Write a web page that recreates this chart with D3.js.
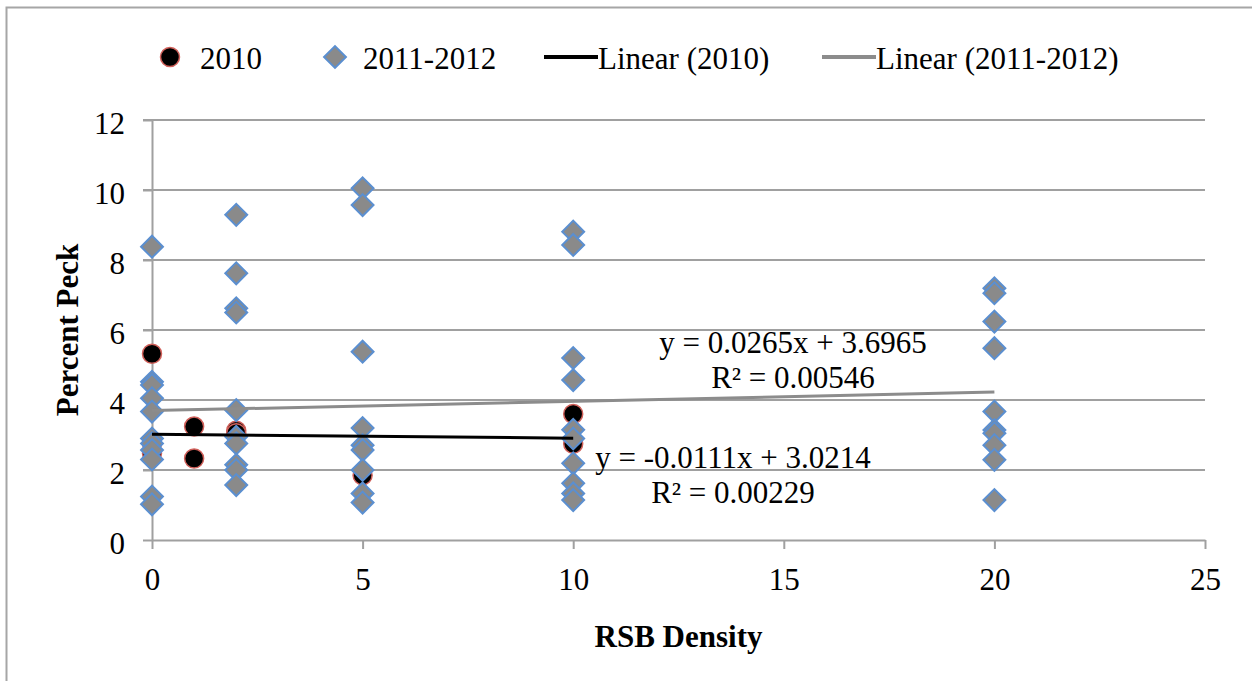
<!DOCTYPE html>
<html>
<head>
<meta charset="utf-8">
<script src="https://cdn.jsdelivr.net/npm/d3@7"></script>
<style>
  body { margin: 0; background: #fff; }
  svg text { font-family: "Times New Roman", "Liberation Serif", "DejaVu Serif", serif !important; fill: #000; }
</style>
</head>
<body>
<div id="chart"></div>
<script>
// 2010 series (circles)
const x2010 = [0, 0, 0, 1, 1, 2, 2, 5, 10, 10];
const y2010 = [5.32, 2.76, 2.48, 3.24, 2.33, 3.12, 3.05, 1.85, 3.6, 2.75];

// 2011-2012 series (diamonds)
const x1112 = [0, 0, 0, 0, 0, 0, 0, 0, 0, 0, 0,
               2, 2, 2, 2, 2, 2, 2, 2, 2, 2,
               5, 5, 5, 5, 5, 5, 5, 5, 5,
               10, 10, 10, 10, 10, 10, 10, 10, 10, 10,
               20, 20, 20, 20, 20, 20, 20, 20, 20, 20];
const y1112 = [8.38, 4.52, 4.43, 4.05, 3.67, 2.9, 2.76, 2.57, 2.3, 1.24, 1.02,
               9.29, 7.62, 6.62, 6.5, 3.71, 2.95, 2.76, 2.15, 2.0, 1.57,
               10.05, 9.57, 5.38, 3.2, 2.71, 2.57, 2.0, 1.33, 1.07,
               8.81, 8.43, 5.2, 4.57, 3.15, 2.9, 2.19, 1.62, 1.33, 1.14,
               7.19, 7.05, 6.24, 5.48, 3.67, 3.14, 3.05, 2.71, 2.29, 1.14];

// linear trendlines
const trendNames = ["Linear (2010)", "Linear (2011-2012)"];
const trendSlope = [-0.0111, 0.0265];
const trendIntercept = [3.0214, 3.6965];
const trendXmax = [10, 20];
const trendEq = ["y = -0.0111x + 3.0214", "y = 0.0265x + 3.6965"];
const trendR2 = ["R² = 0.00229", "R² = 0.00546"];

// axis ticks
const xTicks = [0, 5, 10, 15, 20, 25];
const yTicks = [0, 2, 4, 6, 8, 10, 12];

const width = 1252, height = 681;
const plot = {left: 152, right: 1205, top: 120, bottom: 540};
const gridColor = "#a0a0a0";
const circleFill = "#000", circleStroke = "#d0605a";
const diamondFill = "#8a8a8a", diamondStroke = "#5b8fd0";
const trendColor = ["#000", "#8c8c8c"];

let svg = d3.select("#chart")
    .append("svg")
    .attr("width", width)
    .attr("height", height);

// outer frame
svg.append("rect")
    .attr("x", 6.5).attr("y", 7.5)
    .attr("width", width + 20).attr("height", height + 20)
    .attr("fill", "none")
    .attr("stroke", "#a6a6a6")
    .attr("stroke-width", 2);

let x = d3.scaleLinear().domain([0, 25]).range([plot.left, plot.right]);
let y = d3.scaleLinear().domain([0, 12]).range([plot.bottom, plot.top]);

// horizontal gridlines
svg.append("g")
    .selectAll("line")
    .data(yTicks.filter(d => d > 0))
    .enter()
    .append("line")
    .attr("x1", plot.left - 9).attr("x2", plot.right)
    .attr("y1", d => y(d)).attr("y2", d => y(d))
    .attr("stroke", gridColor)
    .attr("stroke-width", 2);

// y axis
let yAxis = svg.append("g")
    .attr("transform", `translate(${plot.left}, 0)`)
    .call(d3.axisLeft(y).tickValues(yTicks).tickSize(9).tickPadding(18).tickSizeOuter(0));
yAxis.selectAll("text").attr("dy", "0.42em");

// x axis
let xAxis = svg.append("g")
    .attr("transform", `translate(0, ${plot.bottom})`)
    .call(d3.axisBottom(x).tickValues(xTicks).tickSize(9).tickPadding(19).tickSizeOuter(0));

[xAxis, yAxis].forEach(function(a) {
    a.attr("font-family", null).attr("font-size", null);
    a.select(".domain").attr("stroke", gridColor).attr("stroke-width", 2);
    a.selectAll(".tick line").attr("stroke", gridColor).attr("stroke-width", 2);
    a.selectAll("text")
        .style("font-size", "31px")
        .attr("fill", "#000");
});

// axis titles
svg.append("text")
    .attr("transform", `translate(78, ${(plot.top + plot.bottom) / 2}) rotate(-90)`)
    .style("text-anchor", "middle")
    .style("font-size", "31px")
    .style("font-weight", "bold")
    .text("Percent Peck");

svg.append("text")
    .attr("x", (plot.left + plot.right) / 2)
    .attr("y", 647)
    .style("text-anchor", "middle")
    .style("font-size", "31px")
    .style("font-weight", "bold")
    .text("RSB Density");

// markers
let diamond = d3.symbol().type(d3.symbolSquare).size(240);

svg.append("g")
    .selectAll("circle")
    .data(x2010.map((d, i) => ({x: d, y: y2010[i]})))
    .enter()
    .append("circle")
    .attr("cx", d => x(d.x))
    .attr("cy", d => y(d.y))
    .attr("r", 9.5)
    .style("fill", circleFill)
    .style("stroke", circleStroke)
    .style("stroke-width", 1.5);

svg.append("g")
    .selectAll("path")
    .data(x1112.map((d, i) => ({x: d, y: y1112[i]})))
    .enter()
    .append("path")
    .attr("d", diamond)
    .attr("transform", d => `translate(${x(d.x)}, ${y(d.y)}) rotate(45)`)
    .style("fill", diamondFill)
    .style("stroke", diamondStroke)
    .style("stroke-width", 2);

// trendlines
let line = d3.line().x(d => x(d[0])).y(d => y(d[1]));
trendNames.forEach(function(name, i) {
    let pts = [0, trendXmax[i]].map(v => [v, trendSlope[i] * v + trendIntercept[i]]);
    svg.append("path")
        .attr("d", line(pts))
        .attr("fill", "none")
        .attr("stroke", trendColor[i])
        .attr("stroke-width", 3);
});

// equation labels
const eqPos = [[733, 468, 503], [793, 353, 388]];
trendEq.forEach(function(eq, i) {
    svg.append("text")
        .attr("x", eqPos[i][0]).attr("y", eqPos[i][1])
        .style("text-anchor", "middle")
        .style("font-size", "31px")
        .text(eq);
    svg.append("text")
        .attr("x", eqPos[i][0]).attr("y", eqPos[i][2])
        .style("text-anchor", "middle")
        .style("font-size", "31px")
        .text(trendR2[i]);
});

// legend
const legY = 57;
let leg = svg.append("g");
leg.append("circle")
    .attr("cx", 170).attr("cy", legY).attr("r", 9.5)
    .style("fill", circleFill).style("stroke", circleStroke).style("stroke-width", 1.5);
leg.append("text").attr("x", 200).attr("y", legY + 12).style("font-size", "31px").text("2010");

leg.append("path")
    .attr("d", diamond)
    .attr("transform", `translate(335, ${legY}) rotate(45)`)
    .style("fill", diamondFill).style("stroke", diamondStroke).style("stroke-width", 2);
leg.append("text").attr("x", 363).attr("y", legY + 12).style("font-size", "31px").text("2011-2012");

const legLineX = [544, 822];
trendNames.forEach(function(name, i) {
    leg.append("line")
        .attr("x1", legLineX[i]).attr("x2", legLineX[i] + 54)
        .attr("y1", legY).attr("y2", legY)
        .attr("stroke", trendColor[i]).attr("stroke-width", 4);
    leg.append("text")
        .attr("x", legLineX[i] + 54).attr("y", legY + 12)
        .style("font-size", "31px")
        .text(name);
});
</script>
</body>
</html>
